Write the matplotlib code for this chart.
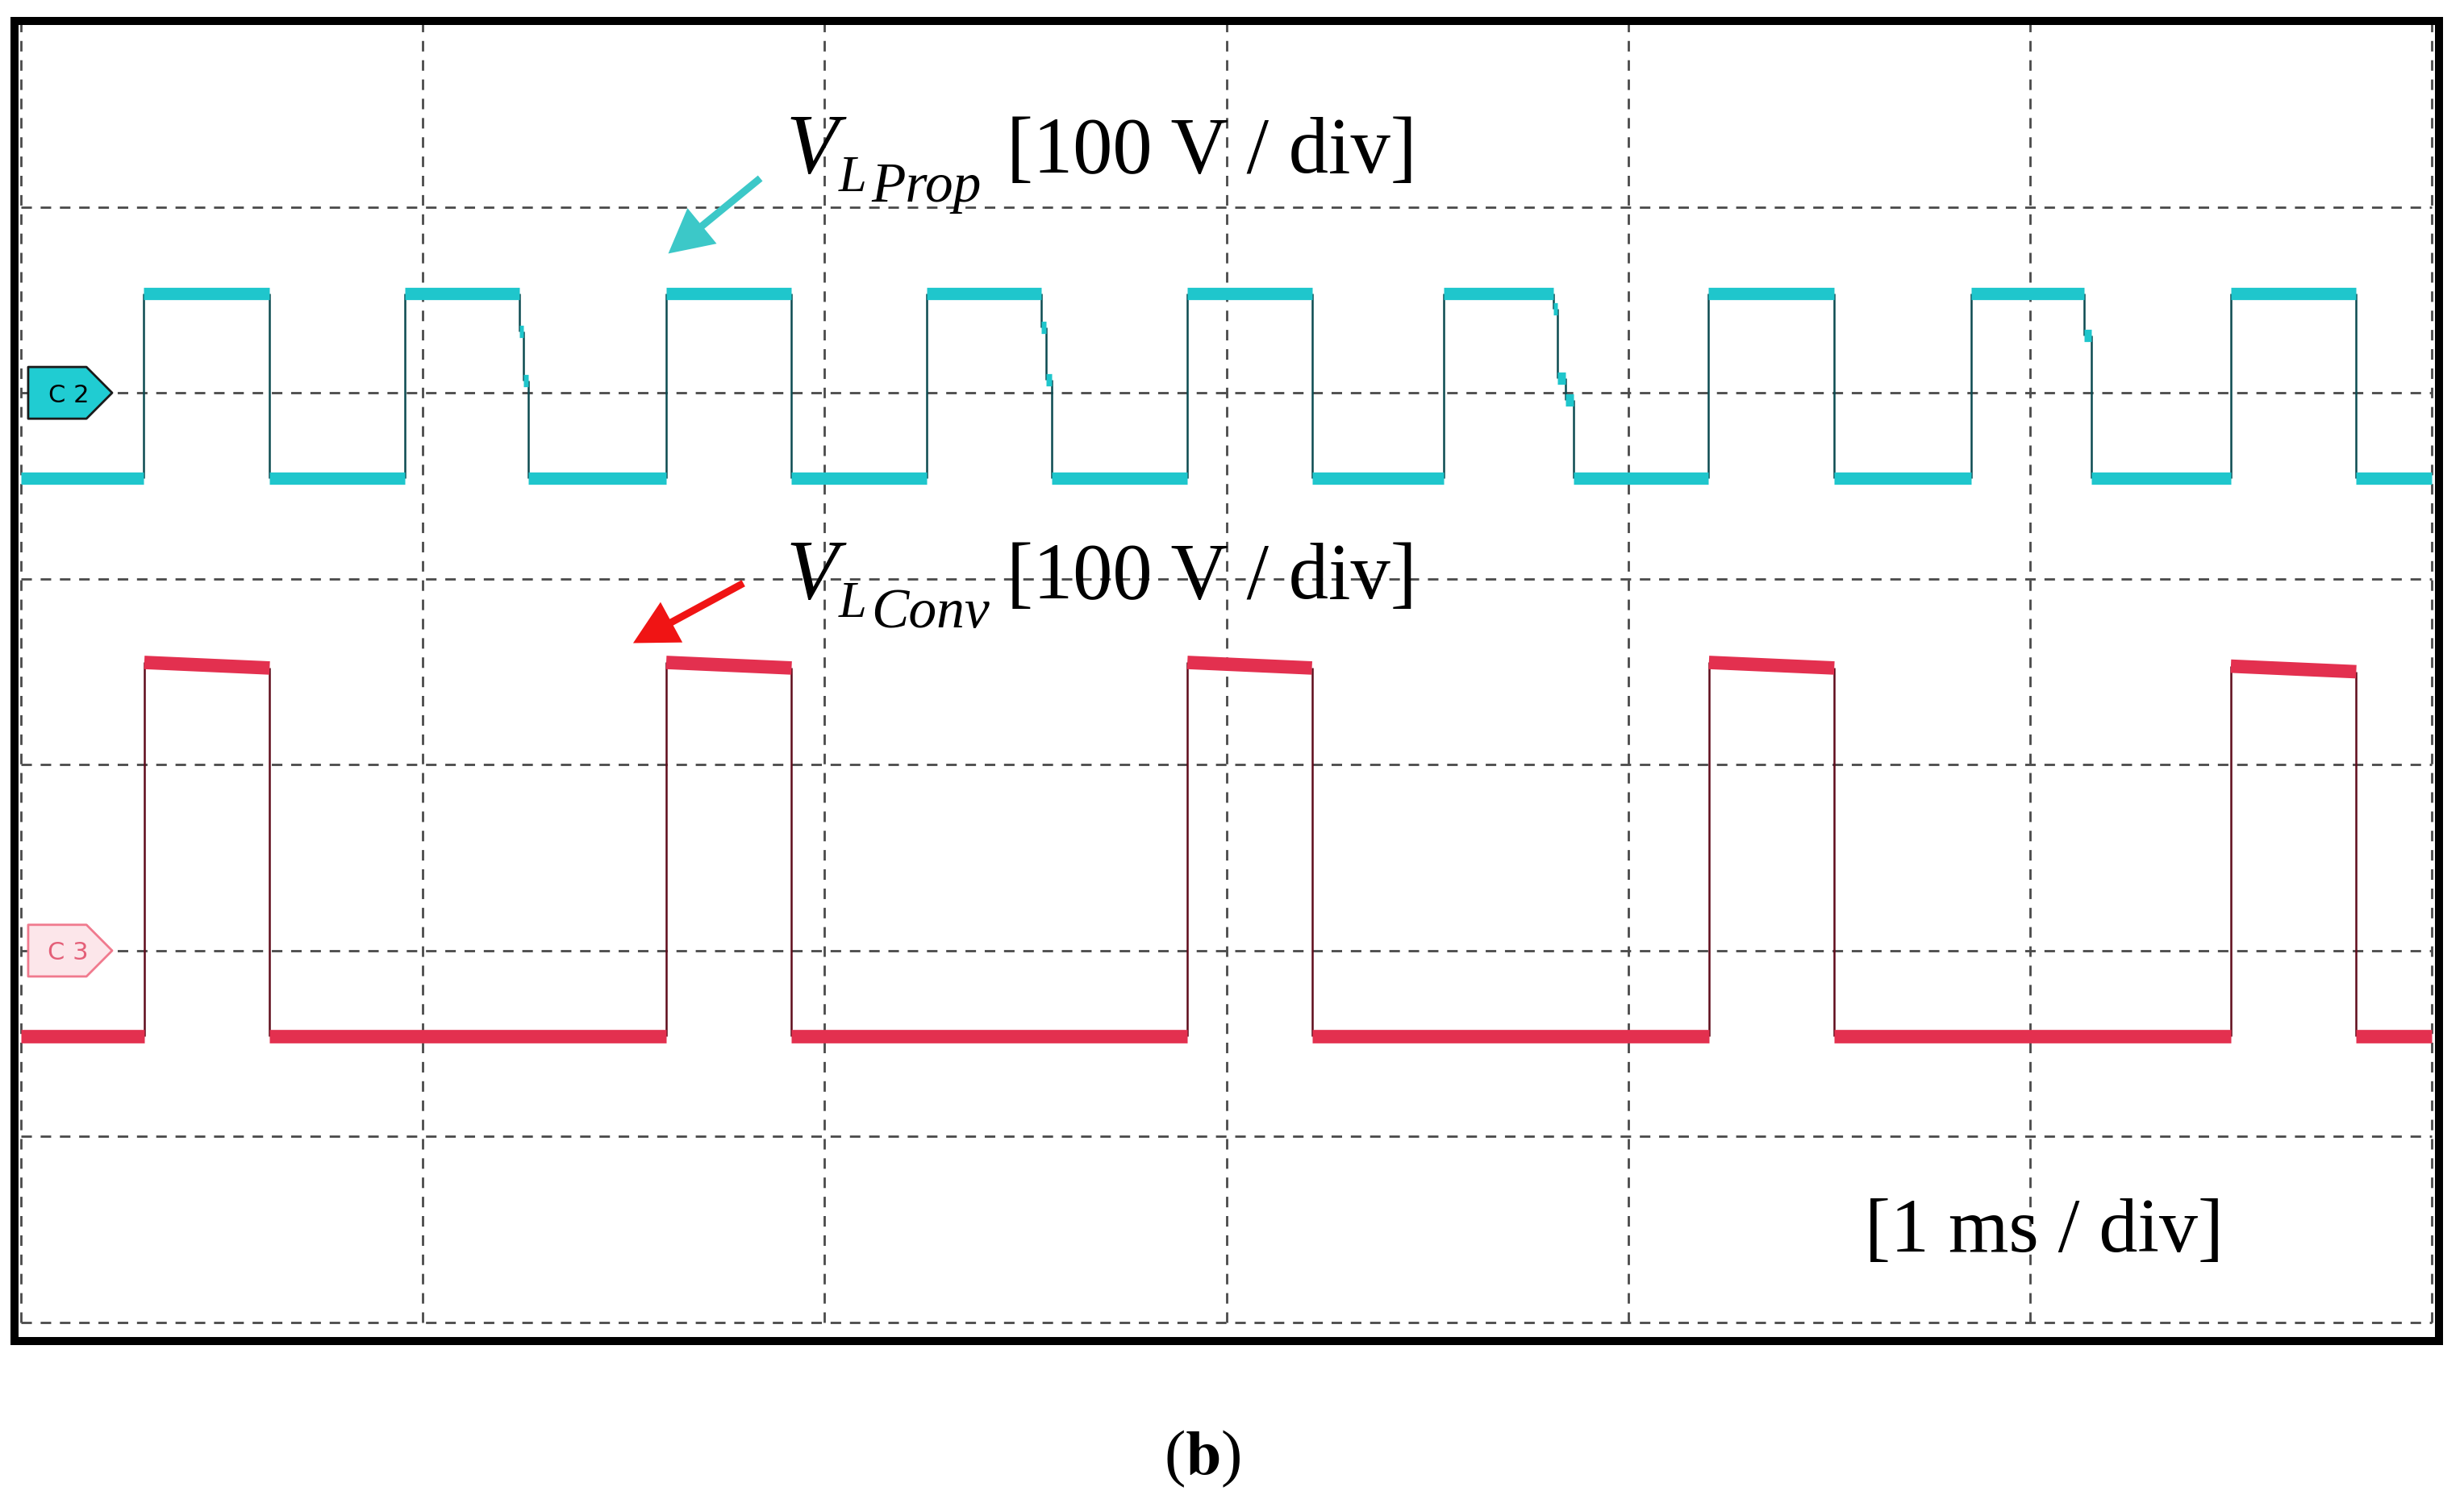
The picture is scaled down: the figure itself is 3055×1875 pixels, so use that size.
import numpy as np
import matplotlib
matplotlib.use('Agg')
import matplotlib.pyplot as plt
from matplotlib.patches import Polygon

plt.rcParams['font.family'] = ['Liberation Serif', 'DejaVu Serif']
plt.rcParams['mathtext.fontset'] = 'stix'

# scope screen: 6 x 7 divisions, 1 ms/div, 100 V/div
N_XDIV = 6
N_YDIV = 7
V_PER_DIV = 100.0

# C2 - proposed: segment start times (ms) and level of each segment (V)
prop_t = [0.000, 0.306, 0.619, 0.955, 1.240, 1.251, 1.263, 1.605, 1.918, 2.255,
          2.540, 2.551, 2.565, 2.903, 3.213, 3.541, 3.814, 3.824, 3.845, 3.865,
          4.200, 4.512, 4.853, 5.135, 5.152, 5.500, 5.812, 6.000]
prop_v = [-46, 53.5, -46, 53.5, 33, 6.5, -46, 53.5, -46, 53.5,
          35, 7, -46, 53.5, -46, 53.5, 45, 8, -4, -46,
          53.5, -46, 53.5, 31, -46, 53.5, -46]
prop_ref = 5  # C2 marker, divisions from bottom

# C3 - conventional: pulse tops droop a little
conv_t = [0.000, 0.307, 0.619, 1.606, 1.918, 2.903, 3.213, 4.201, 4.513, 5.500, 5.812, 6.000]
conv_v_start = [-46, 155, -46, 155, -46, 155, -46, 155, -46, 153, -46]
conv_v_end = [-46, 152, -46, 152, -46, 152, -46, 152, -46, 150, -46]
conv_ref = 2  # C3 marker

GRID_COLOR = '#4a4a4a'


def to_div(v, ref):
    return ref + np.asarray(v, dtype=float) / V_PER_DIV


def draw_trace(ax, t, v0, v1, ref, band_color, edge_color, band_lw):
    t = np.asarray(t)
    y0 = to_div(v0, ref)
    y1 = to_div(v1, ref)
    # thin dark switching edges
    ax.vlines(t[1:-1], y1[:-1], y0[1:], colors=edge_color, lw=1.8, zorder=3)
    # thick levels
    for i in range(len(y0)):
        ax.plot([t[i], t[i + 1]], [y0[i], y1[i]], color=band_color, lw=band_lw,
                solid_capstyle='butt', zorder=4)


def channel_tag(ax, ref, label, face, edge, text_color):
    x0, xb, xt, h = 0.018, 0.163, 0.227, 0.139
    pts = [(x0, ref + h), (xb, ref + h), (xt, ref), (xb, ref - h), (x0, ref - h)]
    ax.add_patch(Polygon(pts, closed=True, fc=face, ec=edge, lw=2,
                         joinstyle='round', zorder=6))
    ax.text(0.118, ref, label, ha='center', va='center_baseline', fontsize=22,
            color=text_color, family='DejaVu Sans', zorder=7)


def trace_label(ax, x, y, sub, rest):
    # V with a two-level subscript, then the scale in brackets
    ax.text(x, y, 'V', fontsize=76, style='italic', ha='left', va='baseline', zorder=8)
    ax.text(x + 0.1315, y - 0.100, 'L', fontsize=45, style='italic',
            ha='left', va='baseline', zorder=8)
    ax.text(x + 0.2125, y - 0.156, sub, fontsize=50, style='italic',
            ha='left', va='baseline', zorder=8)
    ax.text(x + 0.550, y, rest, fontsize=71, ha='left', va='baseline', zorder=8)


fig = plt.figure(figsize=(30.55, 18.75), dpi=100)
ax = fig.add_axes([18 / 3055, 212 / 1875, 3005.5 / 3055, 1637 / 1875])
ax.set_xlim(-0.016, 6.017)
ax.set_ylim(-0.0998, 7.0)
ax.set_xticks([])
ax.set_yticks([])
for s in ax.spines.values():
    s.set_linewidth(7.2)
    s.set_capstyle('projecting')

# dashed graticule
dash = (0, (4.7, 3.9))
ax.vlines(range(N_XDIV + 1), 0, N_YDIV, colors=GRID_COLOR, linestyles=dash, lw=2, zorder=1)
ax.hlines(range(N_YDIV + 1), 0, N_XDIV, colors=GRID_COLOR, linestyles=dash, lw=2, zorder=1)

draw_trace(ax, prop_t, prop_v, prop_v, prop_ref, '#1FC6CC', '#0B4A50', 11)
draw_trace(ax, conv_t, conv_v_start, conv_v_end, conv_ref, '#E3304F', '#5E0B1A', 12)

channel_tag(ax, prop_ref, 'C 2', '#20CCD2', '#1A1A1A', 'black')
channel_tag(ax, conv_ref, 'C 3', '#FCE6EA', '#F07A8E', '#E45F78')

trace_label(ax, 1.904, 6.185, 'Prop', '[100 V / div]')
trace_label(ax, 1.904, 3.893, 'Conv', '[100 V / div]')
ax.text(4.588, 0.38, '[1 ms / div]', fontsize=69, ha='left', va='baseline', zorder=8)

ax.annotate('', xy=(1.611, 5.749), xytext=(1.840, 6.154),
            arrowprops=dict(arrowstyle='simple,head_length=39,head_width=41,tail_width=6.5',
                            mutation_scale=1, fc='#3CC8C8', ec='none',
                            shrinkA=0, shrinkB=0), zorder=8)
ax.annotate('', xy=(1.5235, 3.654), xytext=(1.798, 3.976),
            arrowprops=dict(arrowstyle='simple,head_length=39,head_width=41,tail_width=6.5',
                            mutation_scale=1, fc='#F01414', ec='none',
                            shrinkA=0, shrinkB=0), zorder=8)

fig.text(0.488, 0.0251, r'($\mathbf{b}$)', fontsize=57, ha='center', va='baseline')

fig.savefig('out.png', dpi=100)
